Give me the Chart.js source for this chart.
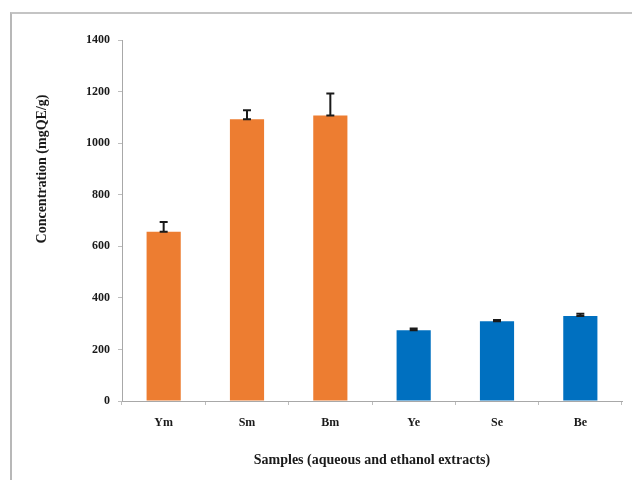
<!DOCTYPE html>
<html>
<head>
<meta charset="utf-8">
<script src="https://cdn.jsdelivr.net/npm/chart.js@4"></script>
<style>
  html, body { margin: 0; padding: 0; background: #fff; }
  #wrap { position: relative; width: 632px; height: 480px; }
  #frame { position: absolute; left: 10px; top: 12px; width: 640px; height: 480px;
           border-top: 2px solid #c4c4c4; border-left: 2px solid #b8b8b8; box-sizing: border-box; }
  canvas { position: absolute; left: 0; top: 0; }
</style>
</head>
<body>
<div id="wrap">
  <div id="frame"></div>
  <canvas id="chart" width="632" height="480"></canvas>
</div>
<script>
const labels = ['Ym', 'Sm', 'Bm', 'Ye', 'Se', 'Be'];
const values = [656, 1093, 1107, 274, 309, 330];
const errors = [38, 35, 86, 7, 5, 8];
const barColors = ['#ED7D31', '#ED7D31', '#ED7D31', '#0070C0', '#0070C0', '#0070C0'];
const yTitle = 'Concentration (mgQE/g)';
const xTitle = 'Samples (aqueous and ethanol extracts)';

const fontFamily = '"Liberation Serif", "Times New Roman", serif';

// plus-direction error bars with caps, as in the original
const errorBars = {
    id: 'errorBars',
    afterDatasetsDraw(chart) {
        const ctx = chart.ctx;
        const y = chart.scales.y;
        const meta = chart.getDatasetMeta(0);
        ctx.save();
        ctx.strokeStyle = '#1a1a1a';
        ctx.lineWidth = 2;
        meta.data.forEach((bar, i) => {
            const top = y.getPixelForValue(values[i] + errors[i]);
            const bot = y.getPixelForValue(values[i]);
            ctx.beginPath();
            ctx.moveTo(bar.x, top);
            ctx.lineTo(bar.x, bot);
            ctx.moveTo(bar.x - 4, top);
            ctx.lineTo(bar.x + 4, top);
            ctx.moveTo(bar.x - 4, bot);
            ctx.lineTo(bar.x + 4, bot);
            ctx.stroke();
        });
        ctx.restore();
    }
};

// y title sits a bit above the middle of the axis in the original
const sideTitle = {
    id: 'sideTitle',
    afterDraw(chart) {
        const ctx = chart.ctx;
        ctx.save();
        ctx.translate(42, 169);
        ctx.rotate(-Math.PI / 2);
        ctx.font = 'bold 14px ' + fontFamily;
        ctx.fillStyle = '#1a1a1a';
        ctx.textAlign = 'center';
        ctx.textBaseline = 'middle';
        ctx.fillText(yTitle, 0, 0);
        ctx.restore();
    }
};

new Chart(document.getElementById('chart'), {
    type: 'bar',
    data: {
        labels: labels,
        datasets: [{
            data: values,
            backgroundColor: barColors,
            barPercentage: 0.41,
            categoryPercentage: 1
        }]
    },
    options: {
        responsive: false,
        animation: false,
        layout: { padding: { top: 40, right: 10, left: 0, bottom: 0 } },
        plugins: { legend: { display: false }, tooltip: { enabled: false } },
        scales: {
            x: {
                grid: { display: true, drawOnChartArea: false, offset: true, tickLength: 4, color: '#bdbdbd' },
                border: { color: '#a8a8a8', width: 1 },
                ticks: { color: '#1a1a1a', padding: 11, font: { family: fontFamily, size: 12, weight: 'bold' } },
                title: { display: true, text: xTitle, color: '#1a1a1a', padding: { top: 4, bottom: 11 },
                         font: { family: fontFamily, size: 14, weight: 'bold' } },
                afterFit(scale) { scale.height = 79; }
            },
            y: {
                min: 0, max: 1400,
                grid: { display: true, drawOnChartArea: false, tickLength: 4, color: '#bdbdbd' },
                border: { color: '#a8a8a8', width: 1 },
                ticks: { stepSize: 200, color: '#1a1a1a', padding: 8,
                         callback: v => String(v),
                         font: { family: fontFamily, size: 12, weight: 'bold' } },
                afterFit(scale) { scale.width = 122; }
            }
        }
    },
    plugins: [errorBars, sideTitle]
});
</script>
</body>
</html>
